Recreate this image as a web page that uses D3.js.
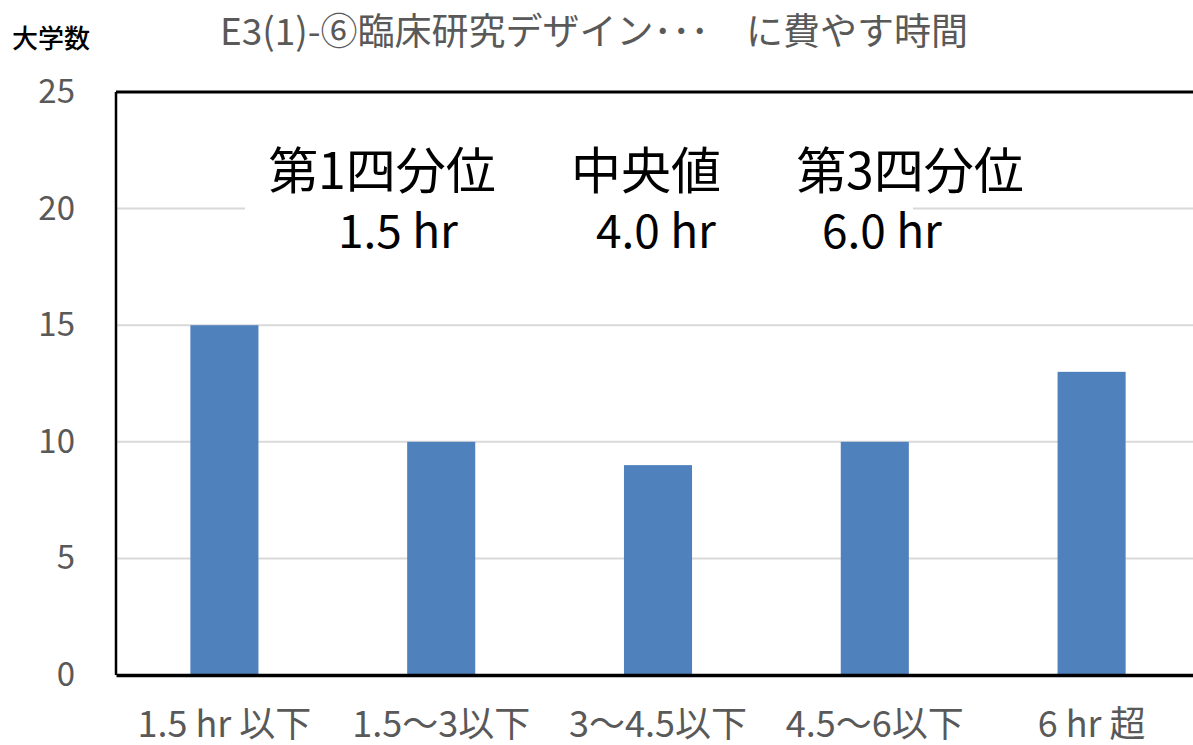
<!DOCTYPE html>
<html>
<head>
<meta charset="utf-8">
<script src="https://cdn.jsdelivr.net/npm/d3@7"></script>
<style>
  html, body { margin: 0; padding: 0; background: #fff; }
  svg { display: block; }
</style>
</head>
<body>
<div id="chart"></div>
<script>
const width = 1193;
const height = 745;
const margin = { top: 92, right: -7, bottom: 70, left: 116 };

const categories = ["1.5 hr 以下", "1.5～3以下", "3～4.5以下", "4.5～6以下", "6 hr 超"];
const counts = [15, 10, 9, 10, 13];
const yTicks = [0, 5, 10, 15, 20, 25];
const quartileNames = ["第1四分位", "中央値", "第3四分位"];
const quartileValues = ["1.5 hr", "4.0 hr", "6.0 hr"];

const titleText = "E3(1)-⑥臨床研究デザイン･･･　に費やす時間";
const yAxisTitle = "大学数";

const font = "'Noto Sans CJK JP', 'Noto Sans', sans-serif";

const svg = d3
    .select("#chart")
    .append("svg")
    .attr("width", width)
    .attr("height", height);

const x = d3
    .scaleBand()
    .domain(categories)
    .range([margin.left, width - margin.right])
    .paddingInner(0.686)
    .paddingOuter(0.343);

const y = d3
    .scaleLinear()
    .domain([0, 25])
    .range([height - margin.bottom, margin.top]);

// gridlines
svg.append("g")
    .selectAll("line")
    .data(yTicks.filter((d) => d > 0))
    .join("line")
    .attr("x1", margin.left)
    .attr("x2", width)
    .attr("y1", (d) => y(d))
    .attr("y2", (d) => y(d))
    .attr("stroke", "#d9d9d9")
    .attr("stroke-width", 2);

// bars
svg.append("g")
    .selectAll("rect")
    .data(categories)
    .join("rect")
    .attr("x", (d) => x(d))
    .attr("y", (d, i) => y(counts[i]))
    .attr("width", x.bandwidth())
    .attr("height", (d, i) => y(0) - y(counts[i]))
    .attr("fill", "#4f81bd");

// frame lines
svg.append("line")
    .attr("x1", margin.left).attr("x2", width)
    .attr("y1", y(25)).attr("y2", y(25))
    .attr("stroke", "#000").attr("stroke-width", 3);
svg.append("line")
    .attr("x1", margin.left).attr("x2", margin.left)
    .attr("y1", y(25)).attr("y2", y(0))
    .attr("stroke", "#000").attr("stroke-width", 2.5);

// axes
const yAxis = svg.append("g")
    .attr("transform", `translate(${margin.left},0)`)
    .call(d3.axisLeft(y).tickValues(yTicks).tickSize(0).tickPadding(41));
yAxis.select(".domain").remove();
yAxis.selectAll("text")
    .attr("font-family", font)
    .attr("font-size", 33)
    .attr("fill", "#595959");

const xAxis = svg.append("g")
    .attr("transform", `translate(0,${y(0)})`)
    .call(d3.axisBottom(x).tickSize(0).tickPadding(36));
xAxis.select(".domain")
    .attr("stroke", "#000")
    .attr("stroke-width", 3.5);
xAxis.selectAll("text")
    .attr("font-family", font)
    .attr("font-size", 36)
    .attr("fill", "#595959");

// annotation box with quartiles
const note = svg.append("g");
note.append("rect")
    .attr("x", 245).attr("y", 135)
    .attr("width", 668).attr("height", 125)
    .attr("fill", "#fff");

const noteX = d3.scalePoint().domain(quartileNames).range([382, 910]);
const valueShift = [16, 10, -28];

note.selectAll("text.name")
    .data(quartileNames)
    .join("text")
    .attr("class", "name")
    .attr("x", (d) => noteX(d))
    .attr("y", 189)
    .attr("text-anchor", "middle")
    .attr("font-family", font)
    .attr("font-size", 50)
    .attr("fill", "#000")
    .text((d) => d);

note.selectAll("text.value")
    .data(quartileValues)
    .join("text")
    .attr("class", "value")
    .attr("x", (d, i) => noteX(quartileNames[i]) + valueShift[i])
    .attr("y", 248)
    .attr("text-anchor", "middle")
    .attr("font-family", font)
    .attr("font-size", 46)
    .attr("fill", "#000")
    .text((d) => d);

// titles
svg.append("text")
    .attr("x", 594)
    .attr("y", 45)
    .attr("text-anchor", "middle")
    .attr("font-family", font)
    .attr("font-size", 37)
    .attr("fill", "#595959")
    .text(titleText);

svg.append("text")
    .attr("x", 12)
    .attr("y", 48)
    .attr("font-family", font)
    .attr("font-size", 26)
    .attr("font-weight", 500)
    .attr("fill", "#000")
    .text(yAxisTitle);
</script>
</body>
</html>
